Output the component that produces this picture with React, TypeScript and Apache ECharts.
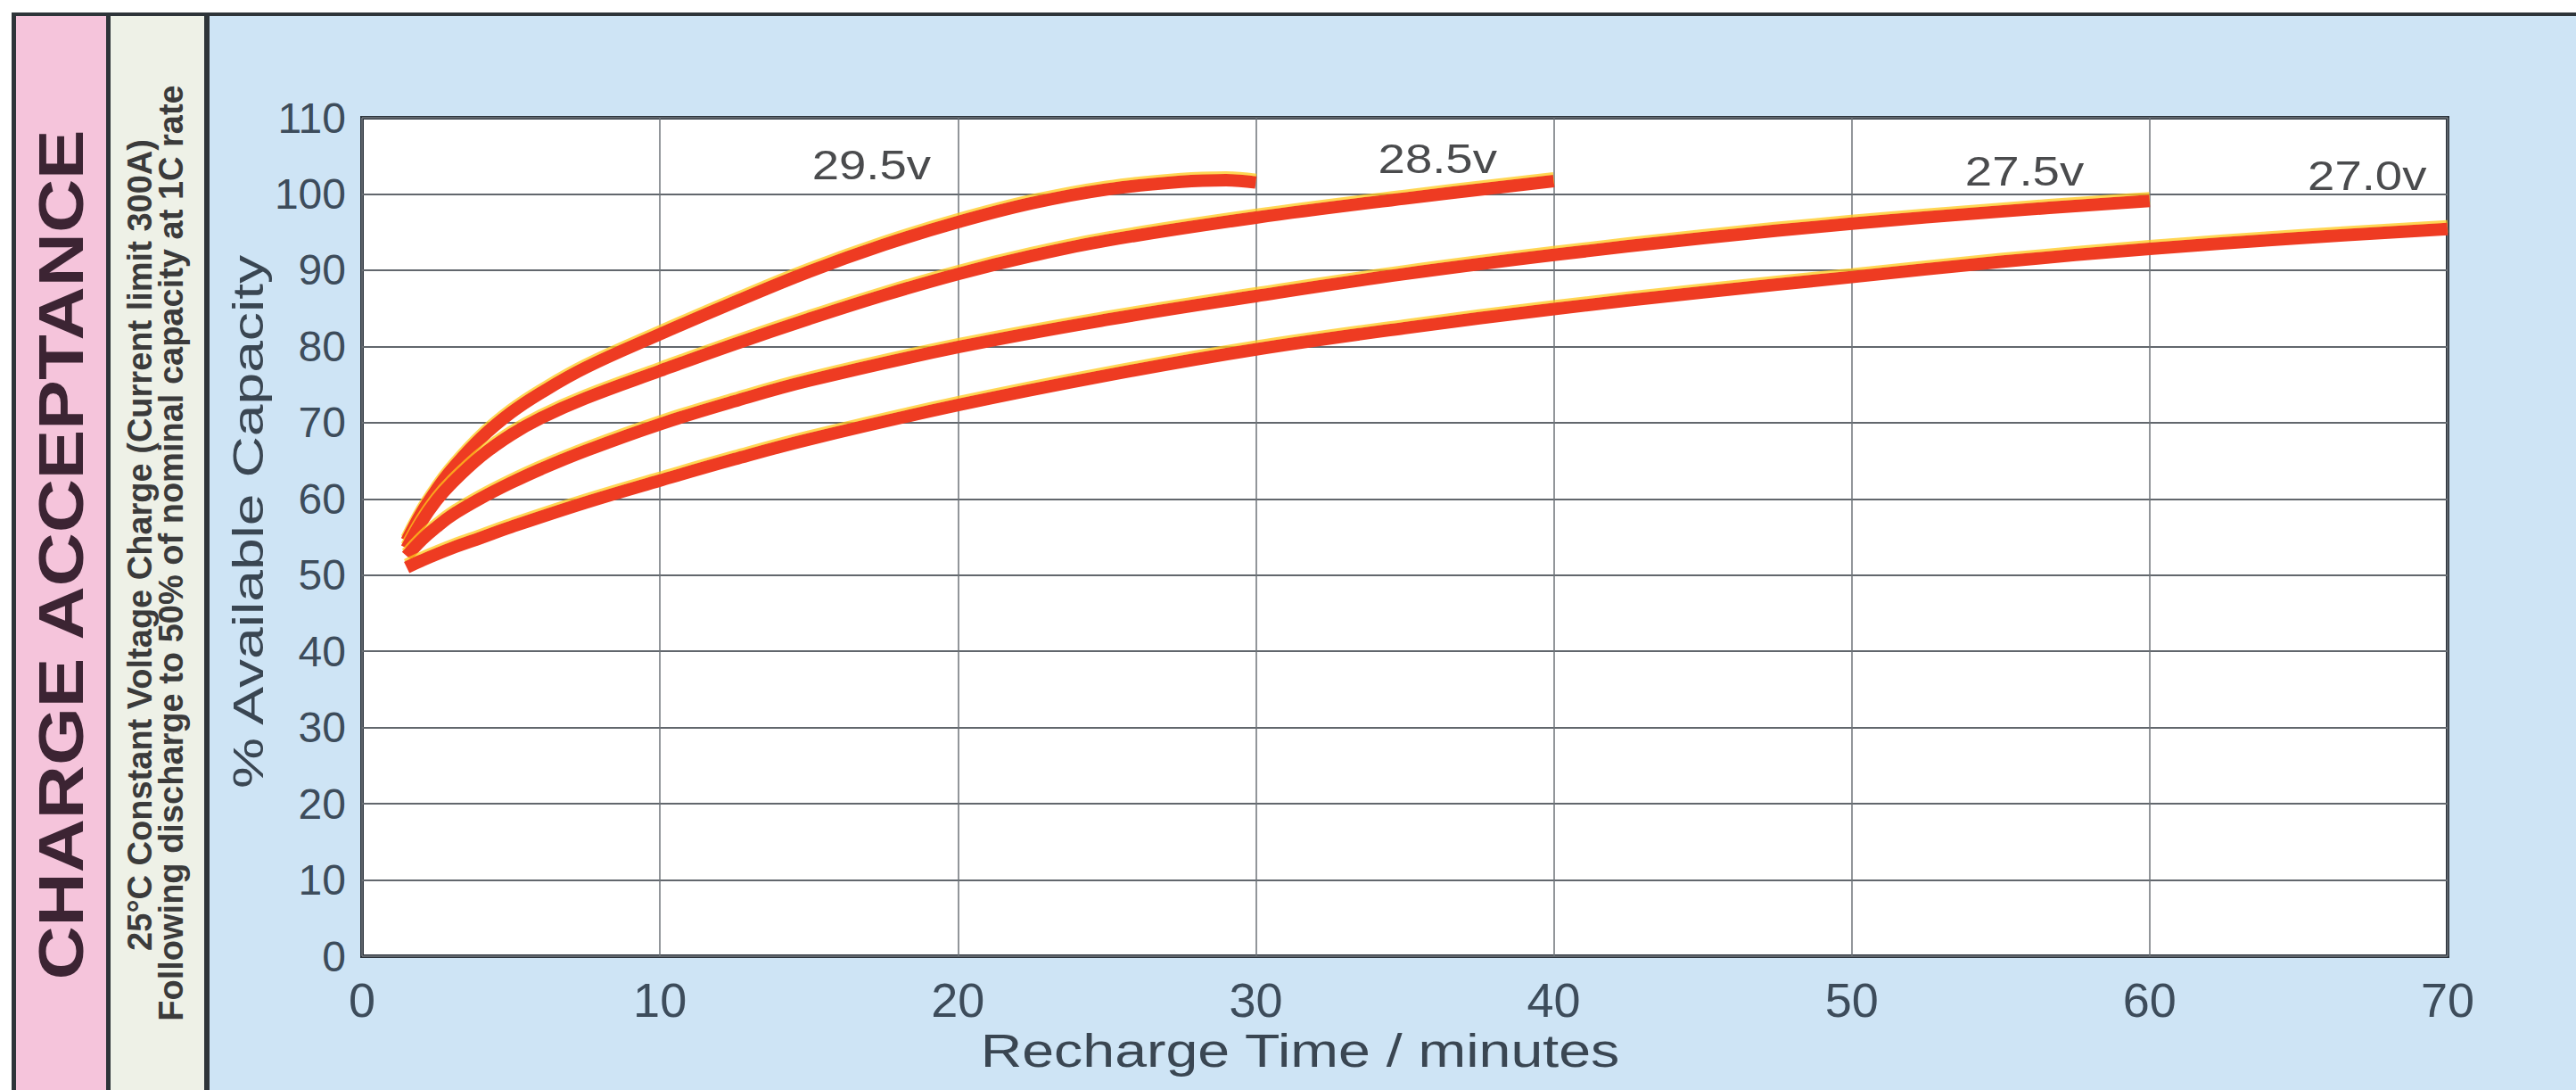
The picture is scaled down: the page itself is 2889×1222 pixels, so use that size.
import React, { useEffect, useRef } from "react";
import * as echarts from "echarts";

// ---- data ----
const curveNames = ["29.5v", "28.5v", "27.5v", "27.0v"];

const time295 = [1.5, 2, 2.5, 3, 4, 5, 6, 7.5, 10, 12.5, 15, 17.5, 20, 22.5, 25, 27.5, 29, 30];
const cap295 = [54.5, 58.2, 61.2, 63.8, 68.0, 71.3, 73.9, 77.2, 81.6, 85.8, 89.8, 93.3, 96.3, 98.8, 100.6, 101.6, 101.8, 101.5];

const time285 = [1.5, 2, 2.5, 3, 4, 5, 6, 7.5, 10, 12.5, 15, 17.5, 20, 22.5, 25, 30, 35, 40];
const cap285 = [53.5, 57.0, 59.8, 62.0, 65.6, 68.4, 70.6, 73.2, 76.8, 80.3, 83.6, 86.7, 89.5, 91.9, 93.9, 96.9, 99.4, 101.7];

const time275 = [1.5, 2, 2.5, 3, 4, 5, 6, 7.5, 10, 12.5, 15, 20, 25, 30, 35, 40, 45, 50, 55, 60];
const cap275 = [52.5, 54.6, 56.3, 57.8, 60.1, 62.1, 63.9, 66.3, 69.8, 72.8, 75.5, 79.9, 83.5, 86.6, 89.5, 92.0, 94.2, 96.1, 97.7, 99.1];

const time270 = [1.5, 2, 3, 4, 5, 7.5, 10, 12.5, 15, 20, 25, 30, 35, 40, 45, 50, 55, 60, 65, 70];
const cap270 = [51.0, 51.9, 53.5, 54.9, 56.3, 59.5, 62.4, 65.2, 67.8, 72.3, 76.2, 79.6, 82.4, 84.9, 87.1, 89.1, 91.1, 92.8, 94.2, 95.4];

// label anchor points (data coordinates)
const labelMinutes = [17.1, 36.1, 55.8, 67.3];
const labelCapacity = [103.8, 104.6, 103.0, 102.4];

const xMin = 0, xMax = 70, xStep = 10;
const yMin = 0, yMax = 110, yStep = 10;

const titleMain = "CHARGE ACCEPTANCE";
const subLine1 = "25°C Constant Voltage Charge (Current limit 300A)";
const subLine2 = "Following discharge to 50% of nominal capacity at 1C rate";
const yTitle = "% Available Capacity";
const xTitle = "Recharge Time / minutes";

const pair = (xs: number[], ys: number[]) => xs.map((x, i) => [x, ys[i]]);

const W = 2889;
const H = 1222;
const FONT = "'Liberation Sans', Arial, Helvetica, sans-serif";

export default function App() {
  const ref = useRef<HTMLDivElement>(null);

  useEffect(() => {
    document.body.style.margin = "0";
    if (!ref.current) return;
    const chart = echarts.init(ref.current, undefined, { renderer: "svg" });

    const lineStyle = {
      width: 14,
      color: "#ee3a22",
      shadowColor: "rgba(255,200,30,0.75)",
      shadowBlur: 1,
      shadowOffsetY: -3,
    };
    const mkLine = (name: string, d: number[][]) => ({
      name,
      type: "line",
      data: d,
      smooth: 0.4,
      showSymbol: false,
      symbol: "none",
      lineStyle,
      silent: true,
      z: 3,
    });

    const dark = "#2e3439";
    const textCol = "#3a4652";

    chart.setOption({
      animation: false,
      backgroundColor: "#ffffff",
      grid: {
        left: 406,
        right: W - 2745,
        top: 132,
        bottom: H - 1072,
        show: true,
        backgroundColor: "#ffffff",
        borderColor: "#2b333c",
        borderWidth: 4,
      },
      xAxis: {
        type: "value",
        min: xMin,
        max: xMax,
        interval: xStep,
        axisLine: { show: false },
        axisTick: { show: false },
        axisLabel: { color: "#3d4c5b", fontSize: 54, fontFamily: FONT, margin: 22 },
        splitLine: { show: true, lineStyle: { color: "#6e7379", width: 1.5 } },
      },
      yAxis: {
        type: "value",
        min: yMin,
        max: yMax,
        interval: yStep,
        axisLine: { show: false },
        axisTick: { show: false },
        axisLabel: { color: "#3d4c5b", fontSize: 48, fontFamily: FONT, margin: 18 },
        splitLine: { show: true, lineStyle: { color: "#62676d", width: 2 } },
      },
      graphic: [
        { type: "rect", z: -10, shape: { x: 16, y: 16, width: W - 16, height: H - 16 }, style: { fill: "#cee4f5" } },
        { type: "rect", z: -9, shape: { x: 16, y: 16, width: 106, height: H - 16 }, style: { fill: "#f5c4db" } },
        { type: "rect", z: -9, shape: { x: 122, y: 16, width: 110, height: H - 16 }, style: { fill: "#eef1e7" } },
        { type: "rect", z: -8, shape: { x: 13, y: 14, width: W - 13, height: 4 }, style: { fill: dark } },
        { type: "rect", z: -8, shape: { x: 13, y: 14, width: 5, height: H - 14 }, style: { fill: dark } },
        { type: "rect", z: -8, shape: { x: 119, y: 14, width: 5, height: H - 14 }, style: { fill: dark } },
        { type: "rect", z: -8, shape: { x: 229, y: 14, width: 6, height: H - 14 }, style: { fill: dark } },
        {
          type: "text", z: 10, x: 68, y: 622, rotation: Math.PI / 2, scaleX: 1.19,
          style: {
            text: titleMain, fill: "#3c2433", fontSize: 70, fontWeight: "bold", fontFamily: FONT,
            align: "center", verticalAlign: "middle", textAlign: "center", textVerticalAlign: "middle",
          },
        },
        {
          type: "text", z: 10, x: 157, y: 611, rotation: Math.PI / 2,
          style: {
            text: subLine1, fill: "#3b3b3b", fontSize: 38, fontWeight: "bold", fontFamily: FONT,
            align: "center", verticalAlign: "middle", textAlign: "center", textVerticalAlign: "middle",
          },
        },
        {
          type: "text", z: 10, x: 192, y: 620, rotation: Math.PI / 2,
          style: {
            text: subLine2, fill: "#3b3b3b", fontSize: 38, fontWeight: "bold", fontFamily: FONT,
            align: "center", verticalAlign: "middle", textAlign: "center", textVerticalAlign: "middle",
          },
        },
        {
          type: "text", z: 10, x: 278, y: 585, rotation: Math.PI / 2, scaleX: 1.31,
          style: {
            text: yTitle, fill: textCol, fontSize: 49, fontFamily: FONT,
            align: "center", verticalAlign: "middle", textAlign: "center", textVerticalAlign: "middle",
          },
        },
        {
          type: "text", z: 10, x: 1458, y: 1178, scaleX: 1.24,
          style: {
            text: xTitle, fill: textCol, fontSize: 52, fontFamily: FONT,
            align: "center", verticalAlign: "middle", textAlign: "center", textVerticalAlign: "middle",
          },
        },
      ],
      series: [
        mkLine(curveNames[0], pair(time295, cap295)),
        mkLine(curveNames[1], pair(time285, cap285)),
        mkLine(curveNames[2], pair(time275, cap275)),
        mkLine(curveNames[3], pair(time270, cap270)),
        {
          type: "custom",
          coordinateSystem: "cartesian2d",
          silent: true,
          z: 5,
          data: pair(labelMinutes, labelCapacity),
          renderItem: (params: any, api: any) => {
            const p = api.coord([api.value(0), api.value(1)]);
            return {
              type: "text",
              x: p[0],
              y: p[1],
              scaleX: 1.16,
              style: {
                text: curveNames[params.dataIndex],
                fill: "#4a4b4d",
                fontSize: 47,
                fontFamily: FONT,
                align: "center",
                verticalAlign: "middle",
              },
            };
          },
        },
      ],
    });

    return () => chart.dispose();
  }, []);

  return <div ref={ref} style={{ width: W, height: H }} />;
}
